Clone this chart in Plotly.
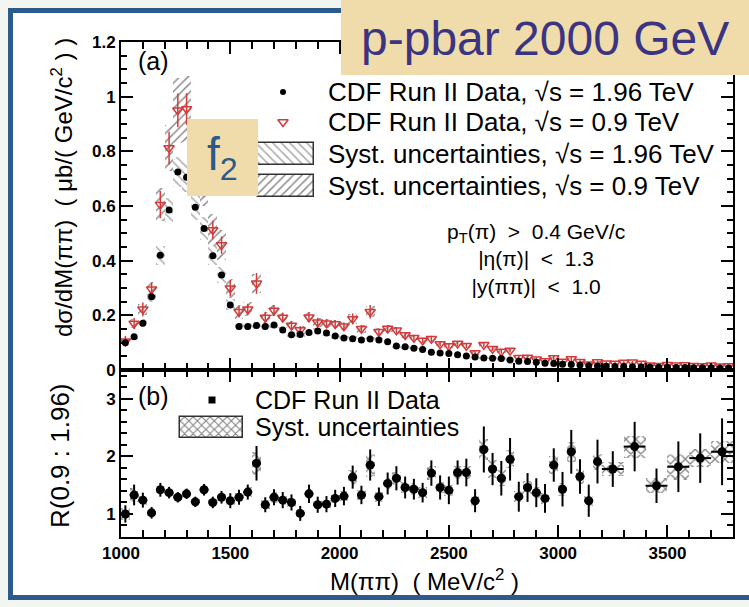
import plotly.graph_objects as go

# ---------------------------------------------------------------- data
# bin centres of the cross-section panel (MeV/c^2), 40 MeV bins
mass_top = list(range(1020, 3800, 40))

# d sigma / dM  at sqrt(s) = 1.96 TeV  (ub / (GeV/c^2))
xs_196 = [
    0.100, 0.122, 0.171, 0.268, 0.420, 0.585, 0.724, 0.705, 0.595, 0.518, 0.418, 0.348, 0.238,
    0.159, 0.159, 0.163, 0.159, 0.165, 0.146, 0.129, 0.130, 0.137, 0.143, 0.135, 0.124, 0.117,
    0.114, 0.110, 0.113, 0.110, 0.103, 0.088, 0.085, 0.080, 0.075, 0.065, 0.062, 0.060, 0.056,
    0.051, 0.048, 0.044, 0.043, 0.042, 0.037, 0.032, 0.031, 0.028, 0.025, 0.024, 0.021, 0.020,
    0.018, 0.016, 0.015, 0.014, 0.013, 0.013, 0.012, 0.011, 0.011, 0.010, 0.010, 0.009, 0.009,
    0.008, 0.008, 0.008, 0.007, 0.007,
]
syst_196 = [
    0.008, 0.010, 0.014, 0.020, 0.035, 0.045, 0.055, 0.055, 0.048, 0.042, 0.035, 0.028, 0.020,
    0.013, 0.013, 0.013, 0.012, 0.012, 0.011, 0.010, 0.010, 0.010, 0.010, 0.010, 0.009, 0.009,
    0.009, 0.008, 0.008, 0.008, 0.008, 0.007, 0.007, 0.006, 0.006, 0.005, 0.005, 0.005, 0.005,
    0.004, 0.004, 0.004, 0.004, 0.004, 0.003, 0.003, 0.003, 0.003, 0.003, 0.003, 0.002, 0.002,
    0.002, 0.002, 0.002, 0.002, 0.002, 0.002, 0.002, 0.002, 0.002, 0.002, 0.002, 0.002, 0.002,
    0.002, 0.002, 0.002, 0.002, 0.002,
]

# d sigma / dM  at sqrt(s) = 0.9 TeV
xs_09 = [
    0.105, 0.170, 0.222, 0.295, 0.605, 0.812, 0.950, 0.955, 0.770, 0.680, 0.512, 0.457, 0.299,
    0.213, 0.222, 0.317, 0.192, 0.218, 0.192, 0.163, 0.146, 0.193, 0.175, 0.171, 0.168, 0.160,
    0.187, 0.151, 0.213, 0.140, 0.152, 0.145, 0.128, 0.118, 0.108, 0.114, 0.095, 0.088, 0.097,
    0.089, 0.062, 0.092, 0.078, 0.068, 0.071, 0.045, 0.046, 0.039, 0.033, 0.044, 0.031, 0.040,
    0.030, 0.021, 0.029, 0.025, 0.024, 0.027, 0.028, 0.024, 0.017, 0.016, 0.019, 0.017, 0.018,
    0.016, 0.015, 0.017, 0.014, 0.015,
]
stat_09 = [
    0.020, 0.020, 0.025, 0.025, 0.050, 0.060, 0.062, 0.058, 0.050, 0.045, 0.034, 0.032, 0.030,
    0.020, 0.020, 0.038, 0.020, 0.020, 0.018, 0.016, 0.015, 0.018, 0.016, 0.015, 0.015, 0.014,
    0.020, 0.014, 0.025, 0.012, 0.013, 0.012, 0.011, 0.011, 0.010, 0.011, 0.009, 0.009, 0.009,
    0.009, 0.007, 0.010, 0.008, 0.008, 0.008, 0.007, 0.007, 0.007, 0.006, 0.007, 0.006, 0.007,
    0.006, 0.005, 0.006, 0.005, 0.005, 0.005, 0.005, 0.005, 0.005, 0.005, 0.005, 0.005, 0.005,
    0.005, 0.005, 0.005, 0.005, 0.005,
]
syst_09 = [
    0.010, 0.015, 0.020, 0.028, 0.060, 0.085, 0.120, 0.120, 0.090, 0.080, 0.060, 0.055, 0.035,
    0.025, 0.025, 0.035, 0.020, 0.020, 0.018, 0.016, 0.015, 0.018, 0.016, 0.016, 0.015, 0.015,
    0.017, 0.014, 0.020, 0.012, 0.013, 0.012, 0.011, 0.010, 0.009, 0.010, 0.008, 0.008, 0.008,
    0.008, 0.006, 0.008, 0.007, 0.006, 0.006, 0.004, 0.004, 0.004, 0.003, 0.004, 0.003, 0.004,
    0.003, 0.002, 0.003, 0.002, 0.002, 0.003, 0.003, 0.002, 0.002, 0.002, 0.002, 0.002, 0.002,
    0.002, 0.002, 0.002, 0.002, 0.002,
]

# ratio R(0.9 : 1.96): 40 MeV bins up to 3200, then 100 MeV bins
mass_ratio = list(range(1020, 3200, 40)) + [3250, 3350, 3450, 3550, 3650, 3750]
width_ratio = [40] * 55 + [100] * 6
ratio = [
    1.00, 1.33, 1.24, 1.02, 1.42, 1.37, 1.29, 1.35, 1.21, 1.42, 1.20, 1.29, 1.23,
    1.29, 1.38, 1.88, 1.16, 1.29, 1.24, 1.20, 1.01, 1.35, 1.16, 1.17, 1.27, 1.31,
    1.64, 1.33, 1.85, 1.30, 1.53, 1.62, 1.46, 1.43, 1.37, 1.71, 1.46, 1.41, 1.72,
    1.72, 1.23, 2.12, 1.78, 1.62, 1.95, 1.30, 1.46, 1.37, 1.27, 1.85, 1.43, 2.08,
    1.65, 1.23, 1.91,
    1.78, 2.17, 1.49, 1.82, 1.97, 2.08,
]
ratio_stat = [
    0.15, 0.18, 0.13, 0.10, 0.12, 0.10, 0.09, 0.09, 0.09, 0.10, 0.10, 0.11, 0.13,
    0.13, 0.13, 0.30, 0.13, 0.14, 0.14, 0.14, 0.13, 0.16, 0.14, 0.14, 0.15, 0.16,
    0.20, 0.16, 0.27, 0.16, 0.19, 0.21, 0.19, 0.18, 0.17, 0.22, 0.21, 0.24, 0.21,
    0.24, 0.20, 0.40, 0.28, 0.30, 0.37, 0.26, 0.25, 0.25, 0.25, 0.29, 0.30, 0.38,
    0.30, 0.28, 0.38,
    0.31, 0.43, 0.30, 0.44, 0.43, 0.58,
]
ratio_syst = [
    0.10, 0.12, 0.08, 0.06, 0.06, 0.05, 0.05, 0.05, 0.05, 0.05, 0.05, 0.06, 0.07,
    0.07, 0.08, 0.20, 0.08, 0.10, 0.08, 0.08, 0.07, 0.09, 0.07, 0.07, 0.08, 0.09,
    0.13, 0.09, 0.20, 0.09, 0.10, 0.11, 0.10, 0.10, 0.09, 0.12, 0.10, 0.10, 0.12,
    0.12, 0.09, 0.18, 0.15, 0.14, 0.16, 0.10, 0.11, 0.10, 0.10, 0.15, 0.11, 0.17,
    0.13, 0.09, 0.14,
    0.12, 0.19, 0.13, 0.23, 0.16, 0.19,
]

x_ticks = [1000, 1500, 2000, 2500, 3000, 3500]

# ---------------------------------------------------------------- geometry
W, H = 749, 607
L, R, T, B = 121, 16, 42, 70
PW, PH = W - L - R, H - T - B
SPLIT = 370                      # pixel row shared by the two panels
D = (H - B - SPLIT) / PH         # top of the ratio panel in paper units

RED = "#d43a3a"
FONT = "Liberation Sans"
BEIGE = "#f0dcab"
BLUE = "#2b5a8b"


def px(x, y):
    """pixel position -> paper coordinates"""
    return (x - L) / PW, (H - B - y) / PH


fig = go.Figure()

# systematic bands, cross-section panel
fig.add_trace(go.Bar(
    x=mass_top, y=[2 * s for s in syst_196],
    base=[v - s for v, s in zip(xs_196, syst_196)], width=40,
    marker=dict(color="rgba(0,0,0,0)", line=dict(width=0),
                pattern=dict(shape="\\", fgcolor="#a8a8a8", bgcolor="rgba(0,0,0,0)",
                             fillmode="replace", size=6, solidity=0.25)),
    xaxis="x", yaxis="y", hoverinfo="skip"))
fig.add_trace(go.Bar(
    x=mass_top, y=[2 * s for s in syst_09],
    base=[v - s for v, s in zip(xs_09, syst_09)], width=40,
    marker=dict(color="rgba(0,0,0,0)", line=dict(width=0),
                pattern=dict(shape="/", fgcolor="#8a8a8a", bgcolor="rgba(0,0,0,0)",
                             fillmode="replace", size=6, solidity=0.25)),
    xaxis="x", yaxis="y", hoverinfo="skip"))

# data points, cross-section panel
fig.add_trace(go.Scatter(
    x=mass_top, y=xs_09, mode="markers",
    marker=dict(symbol="triangle-down-open", size=9, color=RED, line=dict(width=1.5, color=RED)),
    error_y=dict(type="data", array=stat_09, color=RED, thickness=1.5, width=0),
    xaxis="x", yaxis="y"))
fig.add_trace(go.Scatter(
    x=mass_top, y=xs_196, mode="markers",
    marker=dict(symbol="circle", size=7, color="black"),
    xaxis="x", yaxis="y"))

# ratio panel
fig.add_trace(go.Bar(
    x=mass_ratio, y=[2 * s for s in ratio_syst],
    base=[v - s for v, s in zip(ratio, ratio_syst)], width=width_ratio,
    marker=dict(color="rgba(0,0,0,0)", line=dict(width=0),
                pattern=dict(shape="x", fgcolor="#858585", bgcolor="rgba(0,0,0,0)",
                             fillmode="replace", size=7, solidity=0.35)),
    xaxis="x2", yaxis="y2", hoverinfo="skip"))
fig.add_trace(go.Scatter(
    x=mass_ratio, y=ratio, mode="markers",
    marker=dict(symbol="circle", size=9, color="black"),
    error_y=dict(type="data", array=ratio_stat, color="black", thickness=2, width=0),
    error_x=dict(type="data", array=[w / 2 for w in width_ratio], color="black", thickness=2, width=0),
    xaxis="x2", yaxis="y2"))

# legend swatches, drawn on pixel-scaled helper axes
fig.add_trace(go.Scatter(x=[283], y=[92], mode="markers",
                         marker=dict(symbol="circle", size=6, color="black"),
                         xaxis="x3", yaxis="y3", hoverinfo="skip"))
fig.add_trace(go.Scatter(x=[283], y=[122], mode="markers",
                         marker=dict(symbol="triangle-down-open", size=9, color=RED,
                                     line=dict(width=1.5, color=RED)),
                         xaxis="x3", yaxis="y3", hoverinfo="skip"))
for yb, shape, fg in [(143, "\\", "#a8a8a8"), (175, "/", "#8a8a8a")]:
    fig.add_trace(go.Bar(x=[286], y=[22], base=[yb], width=[56],
                         marker=dict(color="rgba(0,0,0,0)", line=dict(color="#333", width=1.5),
                                     pattern=dict(shape=shape, fgcolor=fg, bgcolor="rgba(0,0,0,0)",
                                                  fillmode="replace", size=6, solidity=0.25)),
                         xaxis="x3", yaxis="y3", hoverinfo="skip"))
fig.add_trace(go.Scatter(x=[212], y=[400], mode="markers",
                         marker=dict(symbol="square", size=7, color="black"),
                         xaxis="x4", yaxis="y4", hoverinfo="skip"))
fig.add_trace(go.Bar(x=[211.5], y=[21], base=[417], width=[63],
                     marker=dict(color="rgba(0,0,0,0)", line=dict(color="#333", width=1.5),
                                 pattern=dict(shape="x", fgcolor="#858585", bgcolor="rgba(0,0,0,0)",
                                              fillmode="replace", size=6, solidity=0.35)),
                     xaxis="x4", yaxis="y4", hoverinfo="skip"))

# ---------------------------------------------------------------- axes
tickfont = dict(family=FONT, size=17, color="black", weight="bold")
common = dict(showline=True, linecolor="black", linewidth=2, mirror="allticks",
              ticks="inside", tickcolor="black", tickwidth=1.5, showgrid=False,
              zeroline=False, tickfont=tickfont)

xcommon = dict(common, range=[1000, 3800], tickvals=x_ticks, ticklen=12,
               minor=dict(dtick=100, tick0=1000, ticklen=7, tickwidth=1.5,
                          ticks="inside", tickcolor="black"))

fig.update_layout(
    width=W, height=H, margin=dict(l=L, r=R, t=T, b=B),
    paper_bgcolor="#f3f5f1", plot_bgcolor="white",
    showlegend=False, barmode="overlay", bargap=0,
    xaxis=dict(xcommon, domain=[0, 1], anchor="y", showticklabels=False),
    xaxis2=dict(xcommon, domain=[0, 1], anchor="y2", matches="x", tickformat="d"),
    yaxis=dict(common, domain=[D, 1], anchor="x", range=[0, 1.2], dtick=0.2, tick0=0,
               ticklen=12, minor=dict(dtick=0.05, tick0=0, ticklen=6, tickwidth=1.5,
                                      ticks="inside", tickcolor="black")),
    yaxis2=dict(common, domain=[0, D], anchor="x2", range=[0.6, 3.5], dtick=1, tick0=0,
                ticklen=12, minor=dict(dtick=0.2, tick0=0, ticklen=6, tickwidth=1.5,
                                       ticks="inside", tickcolor="black")),
    xaxis3=dict(overlaying="x", anchor="y3", range=[L, W - R], visible=False),
    yaxis3=dict(overlaying="y", anchor="x3", range=[SPLIT, T], visible=False),
    xaxis4=dict(overlaying="x2", anchor="y4", range=[L, W - R], visible=False),
    yaxis4=dict(overlaying="y2", anchor="x4", range=[H - B, SPLIT], visible=False),
)

# ---------------------------------------------------------------- frame and boxes
def rect(x0, y0, x1, y1, **kw):
    a0, b0 = px(x0, y0)
    a1, b1 = px(x1, y1)
    fig.add_shape(type="rect", xref="paper", yref="paper", x0=a0, y0=b0, x1=a1, y1=b1, **kw)


rect(10.5, 10.5, 800, 597.5, fillcolor="white", line=dict(color=BLUE, width=5), layer="below")
rect(341, -5, 800, 75, fillcolor=BEIGE, line=dict(width=0), layer="above")
rect(187, 119, 258, 196, fillcolor=BEIGE, line=dict(width=0), layer="above")

# ---------------------------------------------------------------- text
def text(x, y, s, size, color="black", xanchor="left", angle=0, family=FONT, align="left"):
    a, b = px(x, y)
    fig.add_annotation(x=a, y=b, xref="paper", yref="paper", text=s, showarrow=False,
                       xanchor=xanchor, yanchor="middle", textangle=angle, align=align,
                       font=dict(family=family, size=size, color=color))


text(545, 39, "p-pbar 2000 GeV", 48, color="#3b3482", xanchor="center")
text(222, 158, "f<sub>2</sub>", 46, color=BLUE, xanchor="center")

legend_rows = [
    (92, "CDF Run II Data, √s = 1.96 TeV"),
    (122, "CDF Run II Data, √s = 0.9 TeV"),
    (154, "Syst. uncertainties, √s = 1.96 TeV"),
    (186, "Syst. uncertainties, √s = 0.9 TeV"),
]
for yy, s in legend_rows:
    text(326, yy, s, 26)

# kinematic selection
text(536, 259,
     "p<sub>T</sub>(π)  >  0.4 GeV/c<br>|η(π)|  <  1.3<br>|y(ππ)|  <  1.0",
     21, xanchor="center", align="center")

text(136, 61, "(a)", 25)
text(136, 396, "(b)", 25)

text(253, 400, "CDF Run II Data", 25)
text(253, 427, "Syst. uncertainties", 25)

text(62, 188, "dσ/dM(ππ)  ( μb/( GeV/c<sup>2</sup> ) )", 24, xanchor="center", angle=-90)
text(60, 455, "R(0.9 : 1.96)", 26, xanchor="center", angle=-90)
text(424, 580, "M(ππ)  ( MeV/c<sup>2</sup> )", 24, xanchor="center")

fig.write_html("out.html")
